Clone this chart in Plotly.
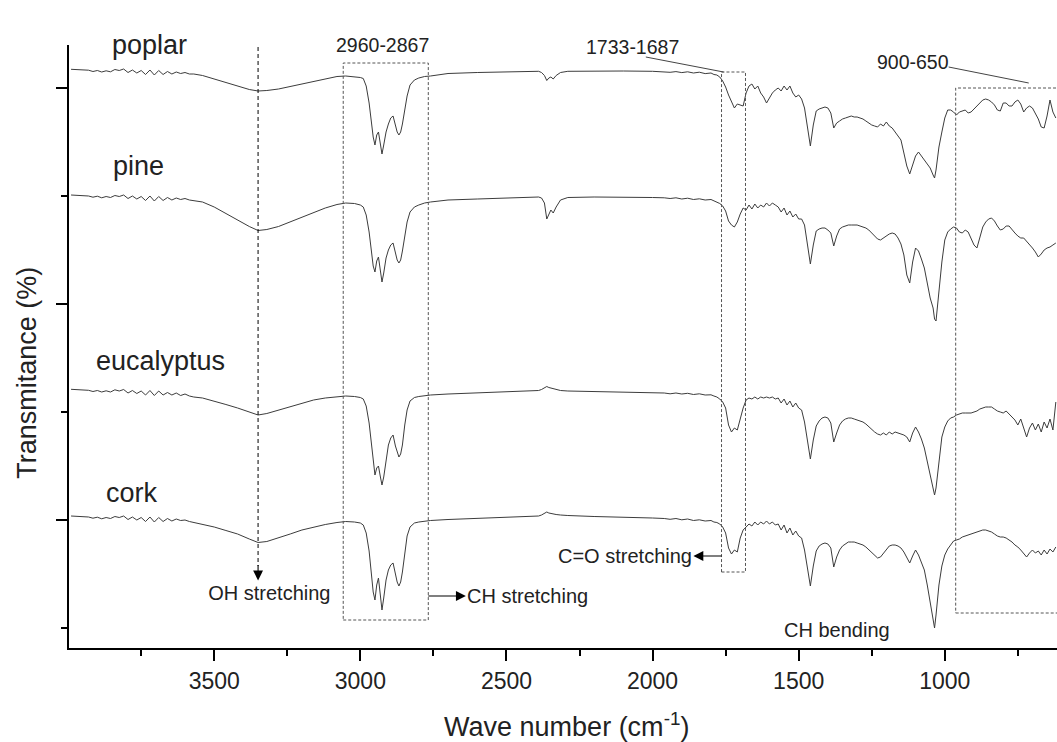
import plotly.graph_objects as go

# ---------------- data ----------------
WAVENUMBER = [
    # 4000-3560 region
    3990, 3975, 3960, 3945, 3930, 3915, 3900, 3885, 3870, 3855, 3840, 3825, 3810, 3795, 3780,
    3765, 3750, 3735, 3720, 3705, 3690, 3675, 3660, 3645, 3630, 3615, 3600, 3585, 3570,
    # OH band
    3540, 3500, 3460, 3420, 3380, 3350, 3320, 3280, 3240, 3200, 3160, 3120, 3080, 3050, 3020,
    # CH stretching
    3000, 2990, 2980, 2970, 2962, 2956, 2950, 2944, 2938, 2932, 2926, 2920, 2912, 2904,
    2896, 2888, 2880, 2874, 2868, 2862, 2856, 2848, 2840, 2830, 2815, 2800, 2780, 2760,
    # plateau / CO2
    2700, 2600, 2500, 2420, 2390, 2380, 2370, 2362, 2355, 2348, 2340, 2330, 2315, 2290, 2200, 2100, 2000,
    # pre-carbonyl
    1960, 1940, 1920, 1900, 1880, 1860, 1840, 1820, 1800, 1790, 1780, 1770, 1760, 1750,
    # fingerprint
    1740, 1730, 1720, 1710, 1700, 1690, 1680, 1670, 1660, 1650,
    1640, 1630, 1620, 1610, 1600, 1590, 1580, 1570, 1560, 1550,
    1540, 1530, 1520, 1510, 1500, 1490, 1480, 1470, 1460, 1450,
    1440, 1430, 1420, 1410, 1400, 1390, 1380, 1370, 1360, 1350,
    1340, 1330, 1320, 1310, 1300, 1290, 1280, 1270, 1260, 1250,
    1240, 1230, 1220, 1210, 1200, 1190, 1180, 1170, 1160, 1150,
    1140, 1130, 1120, 1110, 1100, 1090, 1080, 1070, 1060, 1050,
    1040, 1035, 1030, 1020, 1010, 1000, 990, 980, 970, 960,
    950, 940, 930, 920, 910, 900, 890, 880, 870, 860,
    850, 840, 830, 820, 810, 800, 790, 780, 770, 760,
    750, 740, 730, 720, 710, 700, 690, 680, 670, 660,
    650, 640, 630, 620,
]

POPLAR = [
    930.7, 930.5, 930.2, 930.4, 929.8, 928.5, 929.5, 928, 929.2, 928.2, 930.5, 929.5, 931, 927.5, 930,
    927, 929.5, 925.5, 930, 925, 929.5, 925.5, 928.5, 926, 928, 926.5, 927.5, 926, 926,
    924.5, 921, 917, 913.5, 910.5, 909, 909.5, 911, 913.5, 916.5, 919, 921.5, 923.5, 924, 923.5,
    922.5, 921.5, 914, 897, 878, 863, 855, 865, 868, 855, 846, 855, 868, 876,
    882, 884, 875, 868, 865, 868, 876, 892, 904, 915, 920, 922, 923.5, 924,
    926.5, 927.5, 928.2, 928.7, 928.7, 927.5, 924.5, 919.5, 922, 923, 921, 924.5, 927.5, 928.7, 929, 929, 928.7,
    928.5, 927.7, 928.4, 927.4, 928.2, 927, 927.8, 926.4, 927, 925.5, 925, 923, 919, 913,
    905, 898, 892, 896, 895, 894, 907, 914, 916, 911,
    914, 907, 903, 897, 902, 907, 910, 912, 909, 914,
    910, 914, 907, 903, 905, 901, 892, 872, 854, 875,
    889, 891, 892, 893, 892, 887, 872, 877, 879, 881,
    882, 883, 884, 883, 883, 882, 881, 879, 877, 875,
    874, 873, 876, 874, 878, 874, 872, 868, 863, 860,
    847, 834, 826, 835, 844, 848, 844, 840, 837, 832,
    825, 822, 830, 853, 868, 882, 890, 890, 888, 885,
    888, 889, 890, 887, 888, 891, 894, 897, 900, 901,
    900, 898, 895, 890, 889, 897, 897, 894, 894, 898,
    900, 896, 888, 892, 894, 892, 886, 881, 873, 872,
    884, 900, 888, 882,
]

PINE = [
    805, 804.8, 804.5, 804.7, 804, 802.8, 803.8, 802.2, 803.5, 802.5, 804.5, 803.5, 805, 801.5, 804,
    801, 803.5, 799.5, 804, 799, 803.5, 799.5, 802.5, 800, 802, 800.5, 801.5, 800, 799.5,
    798, 793, 786.5, 780, 773.5, 769.5, 770.5, 773.5, 778, 783, 787.5, 792, 795.5, 797, 796.5,
    795, 793, 785, 768, 748, 734, 728, 739, 743, 730, 718, 727, 742, 750,
    755, 757, 747, 740, 737, 740, 749, 765, 778, 788, 793, 795, 797, 798,
    800, 801, 802, 802.7, 803, 802, 797, 781, 786, 790, 787, 793, 800, 802.5, 803, 803, 802.5,
    802.2, 801.5, 802.2, 801, 801.8, 800.5, 801.2, 800, 800.5, 799, 798, 796.5, 794, 789,
    779, 775, 773, 778, 786, 792, 790, 795, 791, 796,
    792, 795, 793, 797, 794, 797, 795, 793, 788, 792,
    785, 789, 783, 786, 781, 781, 775, 755, 736, 755,
    769, 771, 772, 772, 770, 767, 754, 764, 771, 773,
    774, 775, 775, 775, 775, 774, 773, 772, 770, 767,
    764, 761, 760, 762, 764, 766, 767, 766, 762, 756,
    745, 725, 717, 738, 752, 749, 741, 732, 717, 702,
    692, 681, 679, 710, 738, 760, 768, 771, 773, 772,
    768, 767, 770, 768, 761, 755, 752, 764, 773, 778,
    781, 782, 779, 774, 770, 771, 774, 774, 770, 767,
    764, 762, 762, 759, 756, 752, 748, 743, 746, 750,
    752, 753, 755, 757,
]

EUCALYPTUS = [
    610.7, 610.5, 610.2, 610.4, 609.7, 608.5, 609.5, 608, 609.2, 608, 610.2, 609, 610.5, 607, 609.5,
    606.5, 609, 605, 609.5, 604.5, 609, 605, 607.5, 605, 607, 604.5, 606, 604, 603,
    602, 599, 595.5, 592, 588, 585, 586.5, 590, 593.5, 597, 600, 602, 603.5, 604, 603.5,
    602.5, 601, 594, 577, 555, 537, 525, 532, 534, 524, 515, 523, 542, 555,
    562, 565, 554, 547, 543, 546, 555, 575, 590, 599, 602.5, 603.5, 604.5, 605,
    606, 607, 608, 609, 609.5, 610.5, 612, 613.5, 612.5, 612, 611, 610, 609.5, 609, 608.5, 608, 607.5,
    607, 606.2, 607, 606, 606.7, 605.5, 606.2, 605, 605.2, 604, 603, 601, 598, 592,
    575, 568, 572, 570, 581, 592, 600, 602, 601, 603,
    601, 603, 602, 603, 602, 603, 601, 602, 597, 601,
    595, 599, 593, 597, 592, 590, 578, 560, 541, 560,
    574, 579, 582, 583, 582, 577, 558, 567, 575, 579,
    581, 582, 582, 581, 580, 579, 578, 576, 573, 570,
    568, 566, 565, 567, 565, 568, 566, 568, 567, 566,
    565, 563, 558, 567, 573, 568, 561, 552, 538, 525,
    512, 505, 512, 540, 563, 573, 579, 582, 583, 585,
    586, 587, 587, 587, 587, 588, 589, 591, 592, 593,
    593, 593, 591, 589, 588, 587, 589, 586, 582, 580,
    575, 581, 572, 563, 572, 577, 570, 576, 568, 578,
    572, 581, 570, 598,
]

CORK = [
    484, 483.8, 483.5, 483.7, 483, 481.8, 482.8, 481.2, 482.5, 481.5, 483.5, 482.5, 484, 480.5, 483,
    480, 482.5, 478.5, 483, 478, 482.5, 478.5, 481.5, 479, 481, 479.5, 480, 478.5, 477.5,
    476, 473, 469.5, 466, 461, 457.5, 458.5, 462, 466, 470, 473, 475.5, 477.5, 478.5, 478,
    477, 475, 467, 449, 426, 408, 400, 415, 422, 402, 390, 402, 420, 430,
    435, 437, 426, 418, 414, 418, 428, 448, 464, 473, 477, 478, 479, 479.5,
    480.5, 481.5, 482.5, 483.5, 484, 485, 486.5, 488, 487, 486.5, 486, 485.5, 485, 484.5, 483.5, 483, 482,
    481.5, 480.7, 481.5, 480.2, 481, 479.5, 480.2, 479, 479.5, 478, 477.5, 476, 473, 467,
    452, 446, 450, 448, 462, 470, 473, 476, 474, 478,
    475, 478, 476, 479, 476, 478, 475, 476, 470, 475,
    467, 472, 465, 469, 464, 462, 450, 432, 414, 434,
    449, 454, 456, 457, 456, 452, 433, 443, 450, 454,
    456, 458, 458, 458, 457, 456, 455, 453, 450, 447,
    444, 442, 443, 447, 451, 454, 455, 455, 454, 452,
    448, 443, 437, 444, 450, 445, 438, 430, 415, 398,
    380, 372, 385, 415, 434, 445, 451, 455, 459, 460,
    461, 463, 464, 465, 466, 467, 468, 469, 470, 470,
    469, 468, 466, 464, 463, 463, 462, 460, 458, 455,
    453, 450, 447, 443, 447, 450, 447, 449, 445, 450,
    446, 451, 448, 453,
]

SAMPLES = ["poplar", "pine", "eucalyptus", "cork"]
SERIES = [POPLAR, PINE, EUCALYPTUS, CORK]

X_TICK_VALUES = [3500, 3000, 2500, 2000, 1500, 1000]
X_TICK_LABELS = ["3500", "3000", "2500", "2000", "1500", "1000"]

for s in SERIES:
    assert len(s) == len(WAVENUMBER), (len(s), len(WAVENUMBER))

# ---------------- figure ----------------
FONT = "Arial, Liberation Sans, sans-serif"
LINE_COLOR = "#3c3c3c"
TEXT_COLOR = "#222"
NB = "&nbsp;"

fig = go.Figure()
for name, vals in zip(SAMPLES, SERIES):
    fig.add_trace(go.Scatter(x=WAVENUMBER, y=vals, mode="lines", name=name,
                             line=dict(color=LINE_COLOR, width=1)))

fig.update_layout(
    width=1057, height=742,
    margin=dict(l=69, r=0, t=45, b=94),
    paper_bgcolor="white", plot_bgcolor="white",
    showlegend=False,
    font=dict(family=FONT, color=TEXT_COLOR),
)

fig.update_xaxes(
    range=[3997, 616], showline=True, linecolor="black", linewidth=2,
    ticks="outside", ticklen=11, tickwidth=2, tickcolor="black",
    tickmode="array", tickvals=X_TICK_VALUES, ticktext=X_TICK_LABELS,
    tickfont=dict(size=23, family=FONT, color=TEXT_COLOR),
    minor=dict(ticks="outside", ticklen=6, tickwidth=2, tickcolor="black",
               tickmode="array", tickvals=[3750, 3250, 2750, 2250, 1750, 1250, 750]),
    showgrid=False, zeroline=False,
    title=dict(text=NB + "Wave number (cm<sup>-1</sup>)", standoff=26,
               font=dict(size=27, family=FONT, color=TEXT_COLOR)),
)
fig.update_yaxes(
    range=[352, 955], showline=True, linecolor="black", linewidth=2,
    ticks="outside", ticklen=11, tickwidth=2, tickcolor="black",
    tickmode="linear", tick0=480, dtick=216, showticklabels=False,
    minor=dict(ticks="outside", ticklen=6, tickwidth=2, tickcolor="black",
               tick0=372, dtick=108),
    showgrid=False, zeroline=False,
    title=dict(text="Transmitance (%)" + NB * 7, standoff=12,
               font=dict(size=27, family=FONT, color=TEXT_COLOR)),
)

# dashed guides / boxes
DASH_BOX = "3px,2px"
shapes = [
    dict(type="line", x0=3350, x1=3350, y0=953, y1=434,
         line=dict(color="black", width=1, dash="4px,3px")),
    dict(type="rect", x0=3058.6, x1=2767.5, y0=380, y1=937,
         line=dict(color="#555", width=1, dash=DASH_BOX)),
    dict(type="rect", x0=1764, x1=1682, y0=428, y1=928,
         line=dict(color="#555", width=1, dash=DASH_BOX)),
    dict(type="rect", x0=962.7, x1=560, y0=387, y1=912,
         line=dict(color="#555", width=1, dash=DASH_BOX)),
    dict(type="line", x0=2023, y0=943, x1=1757, y1=928,
         line=dict(color="#444", width=1)),
    dict(type="line", x0=986.7, y0=933, x1=712.7, y1=917,
         line=dict(color="#444", width=1)),
]
for s in shapes:
    fig.add_shape(**s)


def label(text, x, y, size, xanchor="center"):
    fig.add_annotation(x=x, y=y, text=text, showarrow=False, xanchor=xanchor, yanchor="middle",
                       font=dict(size=size, family=FONT, color=TEXT_COLOR))


def arrow_label(text, x_text, y_text, x_from, y_from, size):
    """Text with an arrow that starts at (x_from, y_from) and points at the text."""
    fig.add_annotation(x=x_from, y=y_from, ax=x_text, ay=y_text, axref="x", ayref="y",
                       text=text, showarrow=True, arrowside="start",
                       startarrowhead=2, startarrowsize=1.8, arrowwidth=1.1,
                       arrowcolor="black", startstandoff=0, standoff=0,
                       font=dict(size=size, family=FONT, color=TEXT_COLOR))


label("poplar", 3720, 955, 27)
label("pine", 3759, 834, 27)
label("eucalyptus", 3685, 639, 27)
label("cork", 3781, 507, 27)
label("3350", 3348, 975, 19.5)
label("2960-2867", 2925, 955, 19.5)
label("1733-1687", 2070, 953, 19.5)
label("900-650", 1110, 938, 19.5)
label("CH bending", 1370, 370, 20)

arrow_label(NB * 4 + "OH stretching", 3350, 407, 3350, 435, 20)
arrow_label("CH stretching", 2426.8, 404, 2767.5, 404, 20)
arrow_label("C=O stretching", 2094.6, 444, 1764, 444, 20)

fig.write_html("out.html", config={"displayModeBar": False},
               post_script="document.body.style.margin='0px';document.body.style.overflow='hidden';")
